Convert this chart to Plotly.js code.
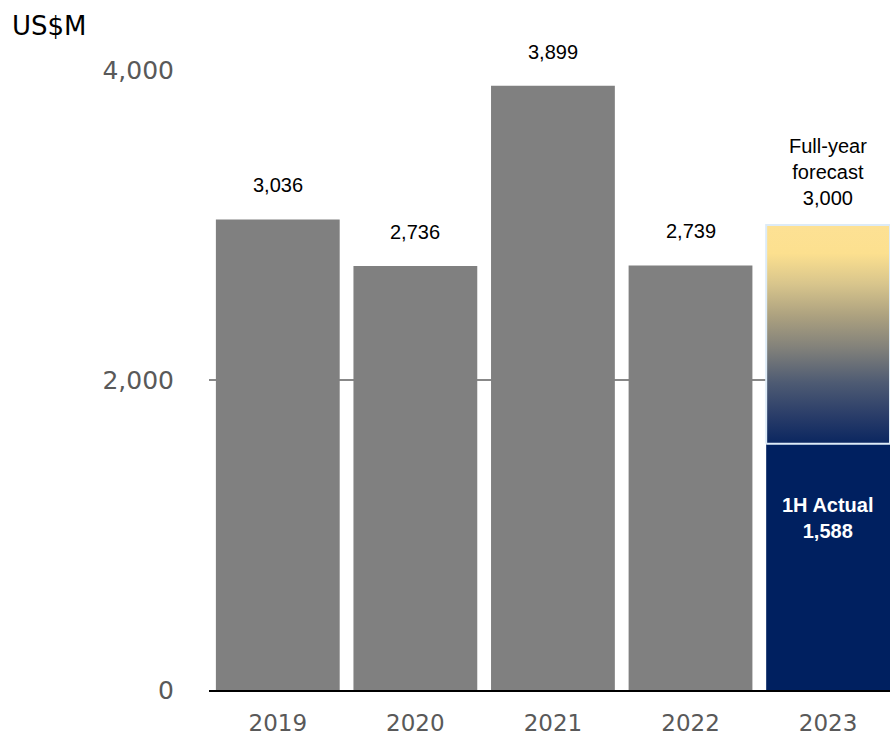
<!DOCTYPE html>
<html>
<head>
<meta charset="utf-8">
<script src="https://cdn.plot.ly/plotly-3.0.1.min.js"></script>
<style>html,body{margin:0;padding:0;background:#fff;}#chart{width:890px;height:736px;}</style>
</head>
<body>
<div id="chart"></div>
<script>
// ---- data ----
const years = ['2019', '2020', '2021', '2022', '2023'];
const annualValues = [3036, 2736, 3899, 2739];          // 2019-2022 full-year
const halfYearActual2023 = 1588;                          // 2023 1H actual
const fullYearForecast2023 = 3000;                        // 2023 full-year forecast
const yTicks = [0, 2000, 4000];

const fmt = v => v.toLocaleString('en-US');
const idx = years.map((_, i) => i);
const barW = 0.9;
const lastIdx = years.length - 1;

const traces = [
  {
    type: 'bar',
    x: idx.slice(0, annualValues.length),
    y: annualValues,
    width: barW,
    marker: { color: '#808080', line: { width: 0 } },
    hoverinfo: 'skip'
  },
  {
    type: 'bar',
    x: [lastIdx],
    y: [halfYearActual2023],
    width: barW,
    marker: { color: '#002060', line: { width: 0 } },
    hoverinfo: 'skip'
  },
  {
    type: 'scatter',
    mode: 'lines',
    x: [lastIdx - barW / 2, lastIdx + barW / 2, lastIdx + barW / 2, lastIdx - barW / 2, lastIdx - barW / 2],
    y: [halfYearActual2023, halfYearActual2023, fullYearForecast2023, fullYearForecast2023, halfYearActual2023],
    fill: 'toself',
    fillgradient: {
      type: 'vertical',
      start: halfYearActual2023,
      stop: fullYearForecast2023,
      colorscale: [
        [0, '#0A2660'],
        [0.13, '#2A3D69'],
        [0.28, '#4E5B73'],
        [0.43, '#7F7F7A'],
        [0.58, '#ABA07F'],
        [0.73, '#D8C58C'],
        [0.87, '#FCE08F'],
        [1, '#FDE194']
      ]
    },
    line: { color: '#DDEBF7', width: 2 },
    hoverinfo: 'skip'
  }
];

const annotations = annualValues.map((v, i) => ({
  x: i, y: v, xref: 'x', yref: 'y',
  text: fmt(v), showarrow: false,
  yanchor: 'bottom', yshift: 21,
  font: { family: 'Liberation Sans, Arial, sans-serif', size: 20, color: '#000' }
}));
annotations.push({
  x: lastIdx, y: fullYearForecast2023, xref: 'x', yref: 'y',
  text: 'Full-year<br>forecast<br>' + fmt(fullYearForecast2023), showarrow: false,
  yanchor: 'bottom', yshift: 14,
  font: { family: 'Liberation Sans, Arial, sans-serif', size: 20, color: '#000' }
});
annotations.push({
  x: lastIdx, y: halfYearActual2023, xref: 'x', yref: 'y',
  text: '<b>1H Actual<br>' + fmt(halfYearActual2023) + '</b>', showarrow: false,
  yanchor: 'top', yshift: -48,
  font: { family: 'Liberation Sans, Arial, sans-serif', size: 20, color: '#FFFFFF' }
});

const layout = {
  width: 890, height: 736,
  margin: { l: 209, r: 0, t: 70, b: 46, pad: 0 },
  paper_bgcolor: '#fff', plot_bgcolor: '#fff',
  showlegend: false,
  barmode: 'overlay',
  title: {
    text: 'US$M',
    font: { family: 'DejaVu Sans, Verdana, sans-serif', size: 26, color: '#000' },
    xref: 'container', yref: 'container',
    x: 12 / 890, xanchor: 'left',
    y: 1 - 26 / 736, yanchor: 'middle'
  },
  xaxis: {
    type: 'linear',
    range: [-0.5, 4.45],
    tickvals: idx,
    ticktext: years,
    showgrid: false,
    zeroline: false,
    showline: true,
    linecolor: '#000',
    linewidth: 2,
    ticks: '',
    ticklabelstandoff: 11,
    tickfont: { family: 'DejaVu Sans, Verdana, sans-serif', size: 23, color: '#595959' }
  },
  yaxis: {
    range: [0, 4000],
    tickvals: yTicks,
    ticktext: yTicks.map(fmt),
    showgrid: true,
    gridcolor: '#888888',
    gridwidth: 1.5,
    zeroline: false,
    showline: false,
    ticks: '',
    ticklabelstandoff: 34,
    tickfont: { family: 'DejaVu Sans, Verdana, sans-serif', size: 25, color: '#595959' }
  },
  annotations: annotations
};

Plotly.newPlot('chart', traces, layout, { staticPlot: true, displayModeBar: false });
</script>
</body>
</html>
